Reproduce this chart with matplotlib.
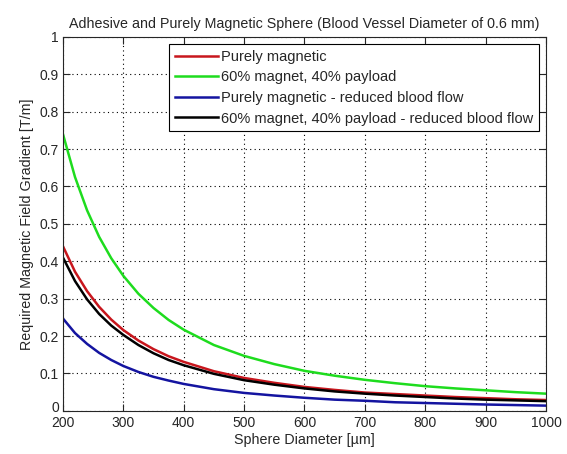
import matplotlib
matplotlib.use("Agg")
import matplotlib.pyplot as plt
from matplotlib.transforms import ScaledTranslation

plt.rcParams['font.family'] = ['Liberation Sans', 'DejaVu Sans']

diameter = [200, 220, 240, 260, 280, 300, 325, 350, 375, 400, 450, 500, 550,
            600, 650, 700, 750, 800, 850, 900, 950, 1000]
purely_magnetic = [0.440, 0.372, 0.320, 0.278, 0.244, 0.216, 0.188, 0.165, 0.146,
                   0.131, 0.106, 0.088, 0.075, 0.064, 0.056, 0.049, 0.045, 0.041,
                   0.037, 0.034, 0.031, 0.029]
magnet_payload = [0.740, 0.625, 0.536, 0.465, 0.408, 0.361, 0.313, 0.275, 0.243,
                  0.217, 0.176, 0.147, 0.125, 0.107, 0.094, 0.083, 0.074, 0.066,
                  0.060, 0.055, 0.050, 0.046]
purely_magnetic_reduced = [0.247, 0.208, 0.179, 0.155, 0.136, 0.120, 0.104, 0.091,
                           0.081, 0.072, 0.058, 0.048, 0.041, 0.035, 0.030, 0.027,
                           0.023, 0.021, 0.019, 0.017, 0.0155, 0.014]
magnet_payload_reduced = [0.410, 0.347, 0.298, 0.259, 0.228, 0.203, 0.176, 0.154,
                          0.136, 0.122, 0.099, 0.082, 0.070, 0.060, 0.052, 0.046,
                          0.041, 0.037, 0.033, 0.030, 0.028, 0.026]

labels = ["Purely magnetic", "60% magnet, 40% payload",
          "Purely magnetic - reduced blood flow",
          "60% magnet, 40% payload - reduced blood flow"]
colors = ["#c8161d", "#1edc1e", "#1414a0", "#000000"]
xticks = [200, 300, 400, 500, 600, 700, 800, 900, 1000]
yticks = [0, 0.1, 0.2, 0.3, 0.4, 0.5, 0.6, 0.7, 0.8, 0.9, 1]
ytick_labels = ["0", "0.1", "0.2", "0.3", "0.4", "0.5", "0.6", "0.7", "0.8", "0.9", "1"]

fig = plt.figure(figsize=(5.67, 4.54), dpi=100, facecolor='white')
ax = fig.add_axes([0.111, 0.095, 0.852, 0.824])

series = [purely_magnetic, magnet_payload, purely_magnetic_reduced, magnet_payload_reduced]
for y, lab, c in zip(series, labels, colors):
    ax.plot(diameter, y, color=c, lw=1.8, label=lab)

ax.set_xlim(200, 1000)
ax.set_ylim(0, 1)
ax.set_xticks(xticks)
ax.set_yticks(yticks)
ax.set_yticklabels(ytick_labels)
txtc = '#262626'
ax.tick_params(direction='in', length=5, top=True, right=True, labelsize=10,
               colors=txtc)
ax.tick_params(axis='x', pad=3.5)
ax.tick_params(axis='y', pad=3)
ax.grid(True, color='black', linestyle=(0, (1, 3)), linewidth=0.8)
for s in ax.spines.values():
    s.set_color('#262626')
    s.set_linewidth(0.8)

# nudge the "0" y tick label up a little so it clears the "200" x tick label
zero_lab = ax.get_yticklabels()[0]
zero_lab.set_transform(zero_lab.get_transform() +
                       ScaledTranslation(0, 3.5 / 72, fig.dpi_scale_trans))

ax.set_title("Adhesive and Purely Magnetic Sphere (Blood Vessel Diameter of 0.6 mm)",
             fontsize=10.3, color=txtc, pad=6)
ax.set_xlabel("Sphere Diameter [µm]", fontsize=10.3, color=txtc, labelpad=2)
ax.set_ylabel("Required Magnetic Field Gradient [T/m]", fontsize=10.3, color=txtc,
              labelpad=4)

leg = ax.legend(loc='upper right', fontsize=10.5, fancybox=False, framealpha=1,
                edgecolor='black', handlelength=3.0, handletextpad=0.15,
                borderaxespad=0.5, labelspacing=0.45, borderpad=0.4)
leg.get_frame().set_linewidth(0.8)
for t in leg.get_texts():
    t.set_color(txtc)

fig.savefig("out.png", dpi=100, facecolor='white')
